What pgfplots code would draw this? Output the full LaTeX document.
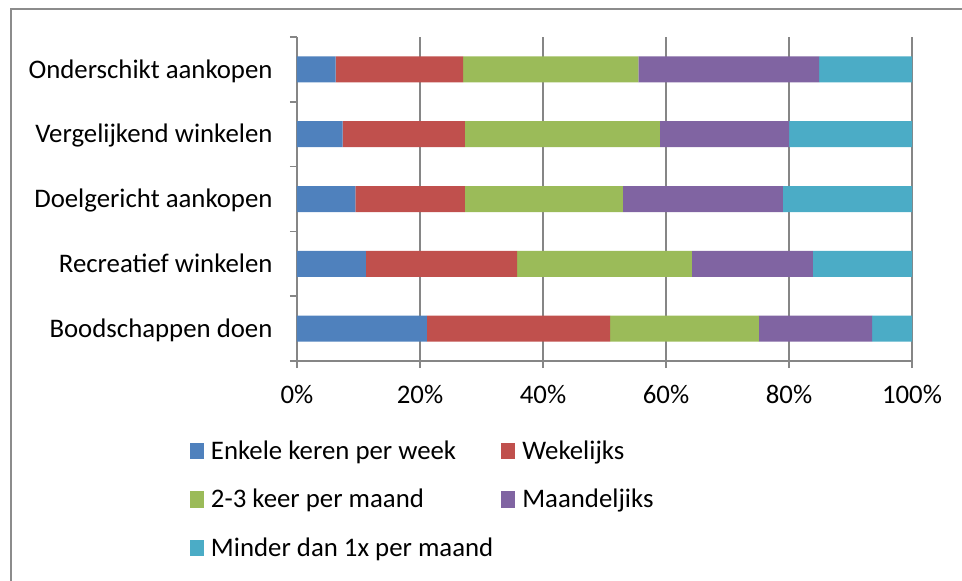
\documentclass[border=0pt]{standalone}
\usepackage{pgfplots}
\pgfplotsset{compat=1.18}
\usepackage{fontspec}
\setmainfont{Carlito}
\definecolor{c1}{HTML}{4F81BD}
\definecolor{c2}{HTML}{C0504D}
\definecolor{c3}{HTML}{9BBB59}
\definecolor{c4}{HTML}{8064A2}
\definecolor{c5}{HTML}{4BACC6}
\definecolor{gridc}{HTML}{868686}
\definecolor{framec}{HTML}{8C8C8C}
\begin{document}
\begin{tikzpicture}
\useasboundingbox (0pt,0pt) rectangle (962pt,-581pt);
\draw[framec, line width=1.2pt] (11pt,-581pt) -- (11pt,-9pt) -- (962pt,-9pt);
\begin{axis}[
  at={(297pt,-361pt)}, anchor=south west,
  scale only axis, width=615pt, height=324pt,
  xbar stacked, bar width=26pt,
  xmin=0, xmax=100, ymin=0.5, ymax=5.5,
  axis x line*=bottom, axis y line*=left,
  axis line style={-, draw=gridc, line width=1.6pt},
  xtick={0,20,40,60,80,100},
  xticklabels={0\%,20\%,40\%,60\%,80\%,100\%},
  ytick={0.5,1.5,2.5,3.5,4.5,5.5},
  y tick label as interval,
  yticklabels={Boodschappen doen,Recreatief winkelen,Doelgericht aankopen,Vergelijkend winkelen,Onderschikt aankopen},
  tick align=outside, major tick length=7pt,
  tick style={draw=gridc, line width=1.6pt},
  xmajorgrids, grid style={draw=gridc, line width=1.6pt},
  every tick label/.append style={font=\fontsize{26.8}{32}\selectfont, text=black},
  xticklabel style={anchor=base, yshift=-35pt},
  yticklabel style={anchor=base east, xshift=-14pt, yshift=-8.6pt},
  legend columns=2,
  legend cell align=left,
  legend image code/.code={\fill[#1] (0pt,-6.5pt) rectangle (14pt,10pt);},
  legend style={at={(-0.17398,-0.2438)}, anchor=north west, draw=none, fill=none,
    inner sep=0pt, outer sep=0pt,
    font=\fontsize{26.8}{32}\selectfont,
    nodes={inner sep=0pt, text height=19pt, text depth=6pt},
    column sep=7pt, row sep=23.5pt,
    /tikz/every even column/.append style={column sep=8pt}},
]
\addplot[fill=c1, draw=none] coordinates {(21.1,1) (11.2,2) (9.5,3) (7.4,4) (6.3,5)};
\addplot[fill=c2, draw=none] coordinates {(29.8,1) (24.6,2) (17.8,3) (19.9,4) (20.7,5)};
\addplot[fill=c3, draw=none] coordinates {(24.2,1) (28.4,2) (25.7,3) (31.7,4) (28.5,5)};
\addplot[fill=c4, draw=none] coordinates {(18.4,1) (19.7,2) (26.0,3) (21.0,4) (29.4,5)};
\addplot[fill=c5, draw=none] coordinates {(6.5,1) (16.1,2) (21.0,3) (20.0,4) (15.1,5)};
\legend{Enkele keren per week,Wekelijks,2-3 keer per maand,Maandeljiks,Minder dan 1x per maand}
\end{axis}
\end{tikzpicture}
\end{document}
